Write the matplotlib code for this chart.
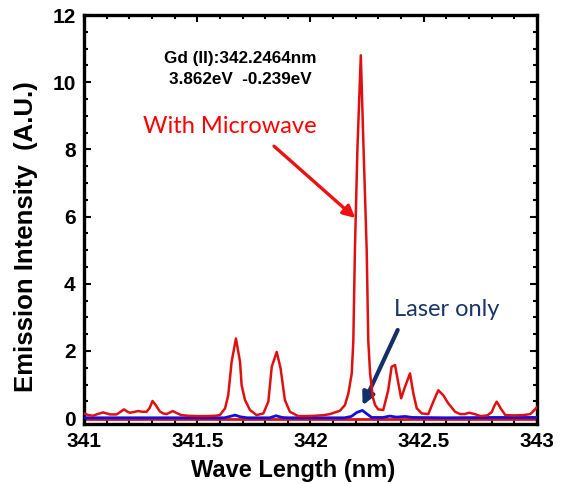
import matplotlib
matplotlib.use("Agg")
import matplotlib.pyplot as plt
from matplotlib.ticker import MultipleLocator

# With Microwave (red)
red_wl = [341.0, 341.02, 341.04, 341.06, 341.085, 341.10, 341.115, 341.144, 341.160, 341.177,
          341.19, 341.203, 341.22, 341.238, 341.258, 341.277, 341.29, 341.303, 341.318, 341.335,
          341.35, 341.365, 341.38, 341.392, 341.41, 341.43, 341.46, 341.50, 341.54, 341.58,
          341.600, 341.623, 341.637, 341.652, 341.671, 341.689, 341.696, 341.711, 341.733, 341.762,
          341.792, 341.814, 341.829, 341.851, 341.868, 341.887, 341.909, 341.946, 341.98, 342.02,
          342.06, 342.086, 342.130, 342.152, 342.167, 342.182, 342.189, 342.196, 342.207, 342.222,
          342.233, 342.248, 342.255, 342.263, 342.275, 342.285, 342.299, 342.321, 342.343, 342.358,
          342.373, 342.388, 342.400, 342.417, 342.439, 342.454, 342.469, 342.491, 342.520, 342.542,
          342.564, 342.586, 342.608, 342.638, 342.660, 342.68, 342.70, 342.725, 342.75, 342.78,
          342.80, 342.81, 342.822, 342.84, 342.86, 342.90, 342.94, 342.97, 342.985, 343.0]
red_int = [0.14, 0.09, 0.07, 0.12, 0.17, 0.14, 0.11, 0.11, 0.18, 0.26,
           0.20, 0.16, 0.18, 0.21, 0.19, 0.19, 0.30, 0.51, 0.38, 0.20,
           0.14, 0.12, 0.17, 0.21, 0.15, 0.09, 0.07, 0.06, 0.06, 0.07,
           0.09, 0.29, 0.68, 1.68, 2.37, 1.68, 0.98, 0.54, 0.24, 0.09,
           0.14, 0.49, 1.53, 1.97, 1.48, 0.54, 0.19, 0.06, 0.06, 0.07,
           0.09, 0.12, 0.22, 0.39, 0.73, 1.33, 2.30, 5.00, 8.00, 10.80,
           8.27, 5.00, 2.30, 1.33, 0.63, 0.39, 0.26, 0.24, 0.83, 1.53,
           1.58, 1.03, 0.59, 0.93, 1.33, 0.73, 0.29, 0.14, 0.12, 0.49,
           0.83, 0.68, 0.44, 0.19, 0.12, 0.12, 0.16, 0.12, 0.06, 0.08,
           0.18, 0.35, 0.49, 0.28, 0.09, 0.08, 0.09, 0.12, 0.22, 0.33]

# Laser only (blue)
blue_wl = [341.0, 341.3, 341.62, 341.645, 341.667, 341.69, 341.72, 341.82, 341.848, 341.875,
           341.90, 342.15, 342.18, 342.205, 342.229, 342.25, 342.27, 342.32, 342.35, 342.38,
           342.417, 342.45, 342.60, 342.80, 343.0]
blue_int = [0.01, 0.01, 0.01, 0.05, 0.09, 0.04, 0.01, 0.01, 0.07, 0.02,
            0.01, 0.01, 0.05, 0.17, 0.23, 0.12, 0.02, 0.02, 0.06, 0.03,
            0.05, 0.02, 0.01, 0.02, 0.02]

# flat red reference line
base_wl = [341.0, 343.0]
base_int = [-0.04, -0.04]

xticks = [341, 341.5, 342, 342.5, 343]
xticklabels = ["341", "341.5", "342", "342.5", "343"]
yticks = [0, 2, 4, 6, 8, 10, 12]

plt.rcParams['font.family'] = ['Liberation Sans', 'DejaVu Sans']

fig = plt.figure(figsize=(5.63, 4.84), dpi=100)
ax = fig.add_axes([0.149, 0.125, 0.805, 0.844])

ax.plot(base_wl, base_int, color='#e01010', lw=2.0, zorder=2)
ax.plot(blue_wl, blue_int, color='#1010e0', lw=2.0, zorder=3)
ax.plot(red_wl, red_int, color='#e01010', lw=1.8, zorder=4)

ax.set_xlim(341, 343)
ax.set_ylim(-0.16, 12)
ax.set_xticks(xticks)
ax.set_xticklabels(xticklabels)
ax.set_yticks(yticks)
ax.xaxis.set_minor_locator(MultipleLocator(0.1))
ax.yaxis.set_minor_locator(MultipleLocator(0.5))
ax.tick_params(which='both', direction='in', top=True, right=True, width=1.5)
ax.tick_params(which='major', length=5, labelsize=15, pad=6)
ax.tick_params(which='minor', length=3)
for lab in ax.get_xticklabels() + ax.get_yticklabels():
    lab.set_fontweight('bold')
for s in ax.spines.values():
    s.set_linewidth(2.4)

ax.set_xlabel('Wave Length (nm)', fontsize=17, fontweight='bold')
ax.xaxis.set_label_coords(0.461, -0.088)
ax.set_ylabel('Emission Intensity  (A.U.)', fontsize=18.5, fontweight='bold')
ax.yaxis.set_label_coords(-0.102, 0.458)

ax.text(0.345, 0.893, 'Gd (II):342.2464nm', transform=ax.transAxes, ha='center', va='center',
        fontsize=12.3, fontweight='bold')
ax.text(0.345, 0.843, '3.862eV  -0.239eV', transform=ax.transAxes, ha='center', va='center',
        fontsize=12.3, fontweight='bold')
ax.text(0.323, 0.727, 'With Microwave', transform=ax.transAxes, ha='center', va='center',
        fontsize=17, color='#ff0000', family=['Lato', 'DejaVu Sans'])
ax.text(0.8, 0.278, 'Laser only', transform=ax.transAxes, ha='center', va='center',
        fontsize=17, color='#1a3668', family=['Lato', 'DejaVu Sans'])

ax.annotate('', xy=(342.207, 5.9), xytext=(341.83, 8.15),
            arrowprops=dict(arrowstyle='-|>', color='#ee1111', lw=2.4, mutation_scale=18))
ax.annotate('', xy=(342.225, 0.3), xytext=(342.39, 2.7),
            arrowprops=dict(arrowstyle='-|>', color='#14306a', lw=3.0, mutation_scale=18))

fig.savefig('out.png', dpi=100)
